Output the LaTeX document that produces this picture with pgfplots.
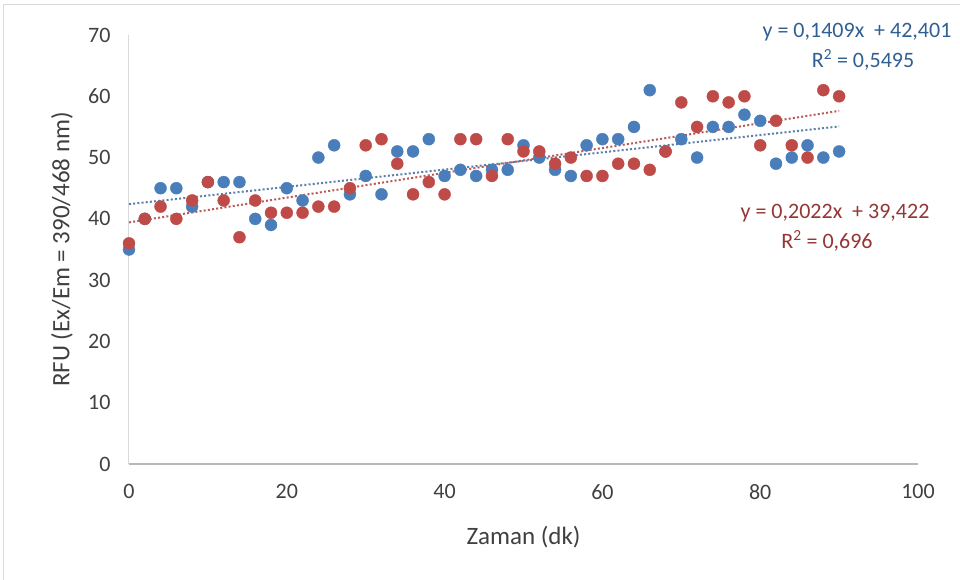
\documentclass[border=0pt]{standalone}
\usepackage{pgfplots}
\pgfplotsset{compat=1.18}
\usepackage{fontspec}
\setmainfont{Carlito}

\definecolor{serblue}{HTML}{4A7EBB}
\definecolor{serred}{HTML}{BE4B48}
\definecolor{trblue}{HTML}{5A7FAA}
\definecolor{trred}{HTML}{B85A57}
\definecolor{eqblue}{HTML}{2F5F93}
\definecolor{eqred}{HTML}{943634}
\definecolor{ticktext}{HTML}{404040}

\begin{document}
\begin{tikzpicture}[x=1bp,y=1bp]
\path[use as bounding box] (-129,-116) rectangle (831,464);
% outer chart frame
\draw[color=black!15, line width=1bp] (-125,-116) -- (-125,459) -- (831,459);

\begin{axis}[
  at={(0,0)}, anchor=south west,
  scale only axis, width=789bp, height=429bp,
  xmin=0, xmax=100, ymin=0, ymax=70,
  xtick={0,20,...,100}, ytick={0,10,...,70},
  axis x line*=bottom, axis y line*=left,
  x axis line style={draw=black!28, line width=1.2bp, -},
  y axis line style={draw=black!15, line width=1bp, -},
  major tick length=0pt,
  tick label style={font=\fontsize{22bp}{26bp}\selectfont, text=ticktext},
  /pgf/number format/assume math mode=true,
  xticklabel style={yshift=-17bp},
  yticklabel style={xshift=-15bp},
  xlabel={Zaman (dk)},
  ylabel={RFU (Ex/Em = 390/468 nm)},
  label style={font=\fontsize{25bp}{30bp}\selectfont, text=ticktext},
  xlabel style={at={(axis description cs:0.5,0)}, anchor=center, yshift=-73bp},
  ylabel style={at={(axis description cs:0,0.5)}, anchor=center, rotate=0, xshift=0bp, yshift=67bp},
  clip=false,
]
% series 1
\addplot[only marks, mark=*, mark size=6bp, mark options={draw=serblue, fill=serblue}] coordinates {
(0,35) (2,40) (4,45) (6,45) (8,42) (10,46) (12,46) (14,46) (16,40) (18,39)
(20,45) (22,43) (24,50) (26,52) (28,44) (30,47) (32,44) (34,51) (36,51) (38,53)
(40,47) (42,48) (44,47) (46,48) (48,48) (50,52) (52,50) (54,48) (56,47) (58,52)
(60,53) (62,53) (64,55) (66,61) (68,51) (70,53) (72,50) (74,55) (76,55) (78,57)
(80,56) (82,49) (84,50) (86,52) (88,50) (90,51)
};
% series 2
\addplot[only marks, mark=*, mark size=6bp, mark options={draw=serred, fill=serred}] coordinates {
(0,36) (2,40) (4,42) (6,40) (8,43) (10,46) (12,43) (14,37) (16,43) (18,41)
(20,41) (22,41) (24,42) (26,42) (28,45) (30,52) (32,53) (34,49) (36,44) (38,46)
(40,44) (42,53) (44,53) (46,47) (48,53) (50,51) (52,51) (54,49) (56,50) (58,47)
(60,47) (62,49) (64,49) (66,48) (68,51) (70,59) (72,55) (74,60) (76,59) (78,60)
(80,52) (82,56) (84,52) (86,50) (88,61) (90,60)
};
% linear trend lines
\addplot[trblue, line width=2bp, dash pattern=on 2bp off 2.2bp] coordinates {(0,42.401) (90,55.082)};
\addplot[trred, line width=2bp, dash pattern=on 2bp off 2.2bp] coordinates {(0,39.422) (90,57.620)};
\end{axis}

\begin{scope}[every node/.style={font=\fontsize{22bp}{26bp}\selectfont, inner sep=0pt}]
\node[text=eqblue] at (728,432) {y = 0,1409x \ + 42,401};
\node[text=eqblue] at (734,404) {R\textsuperscript{2} = 0,5495};
\node[text=eqred] at (706,251) {y = 0,2022x \ + 39,422};
\node[text=eqred] at (698,223) {R\textsuperscript{2} = 0,696};
\end{scope}
\end{tikzpicture}
\end{document}
